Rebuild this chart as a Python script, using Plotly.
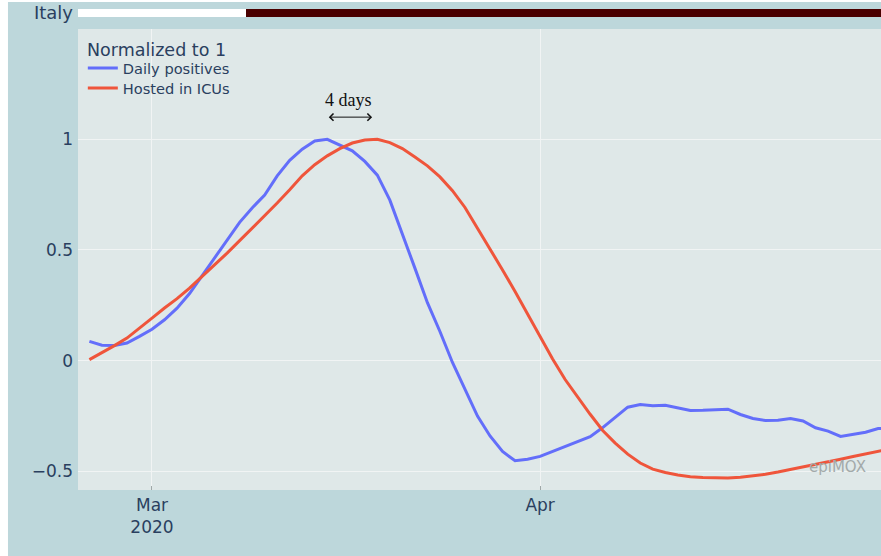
import pandas as pd
import plotly.graph_objects as go

# Daily series (normalized so that each peak equals 1)
dates = pd.date_range("2020-02-25", "2020-04-29", freq="D")

daily_positives = [
    0.087, 0.070, 0.069, 0.080, 0.110,
    0.142, 0.185, 0.237, 0.303, 0.385, 0.462, 0.545, 0.625, 0.690, 0.748,
    0.835, 0.905, 0.955, 0.992, 1.000, 0.975, 0.948, 0.900, 0.838, 0.725,
    0.575, 0.418, 0.262, 0.132, -0.008, -0.130, -0.250, -0.340, -0.410, -0.452,
    -0.445,
    -0.432, -0.410, -0.388, -0.365, -0.343, -0.302, -0.258, -0.210, -0.198, -0.203,
    -0.201, -0.213, -0.225, -0.224, -0.222, -0.219, -0.243, -0.261, -0.270, -0.269,
    -0.261, -0.272, -0.303, -0.318, -0.342, -0.333, -0.323, -0.306, -0.305,
]

hosted_in_icus = [
    0.005, 0.035, 0.068, 0.102, 0.145,
    0.192, 0.238, 0.280, 0.328, 0.380, 0.432, 0.486, 0.542, 0.598, 0.655,
    0.712, 0.772, 0.835, 0.885, 0.925, 0.958, 0.983, 0.997, 1.000, 0.985,
    0.958, 0.920, 0.880, 0.830, 0.768, 0.692, 0.600, 0.505, 0.410, 0.312,
    0.212,
    0.108, 0.008, -0.085, -0.165, -0.242, -0.315, -0.372, -0.422, -0.462, -0.490,
    -0.505, -0.516, -0.524, -0.528, -0.530, -0.530, -0.526, -0.520, -0.513, -0.503,
    -0.492, -0.480, -0.468, -0.456, -0.445, -0.433, -0.421, -0.410, -0.398,
]

# Restriction strip (0 = no lockdown, 1 = lockdown)
strip_dates = pd.date_range("2020-02-24", "2020-04-29", freq="D")
strip_country = ["Italy"]
lockdown = [
    0, 0, 0, 0, 0, 0, 0, 0, 0, 0, 0, 0, 0, 0,
    1, 1, 1, 1, 1, 1, 1, 1, 1, 1, 1, 1, 1, 1, 1, 1, 1, 1, 1, 1, 1, 1, 1,
    1, 1, 1, 1, 1, 1, 1, 1, 1, 1, 1, 1, 1, 1, 1, 1, 1, 1, 1, 1, 1, 1, 1,
    1, 1, 1, 1, 1, 1,
]

FONT_COLOR = "#2a3f5f"
PAPER = "#bdd7db"
PLOT_BG = "#dfe8e8"
GRID = "#f1f4f4"

fig = go.Figure()

fig.add_trace(go.Heatmap(
    x=strip_dates, y=strip_country, z=[lockdown],
    colorscale=[[0, "#ffffff"], [1, "#4a0000"]], zmin=0, zmax=1,
    showscale=False, xaxis="x2", yaxis="y2", hoverinfo="skip",
))

fig.add_trace(go.Scatter(
    x=dates, y=daily_positives, mode="lines", name="Daily positives",
    line=dict(color="#636efa", width=3), legend="legend",
))
fig.add_trace(go.Scatter(
    x=dates, y=hosted_in_icus, mode="lines", name="Hosted in ICUs",
    line=dict(color="#ef553b", width=3), legend="legend2",
))

# Legend heading
fig.add_annotation(
    x=0.0087, y=0.9148, xref="paper", yref="paper", xanchor="left", yanchor="middle",
    text="Normalized to 1", showarrow=False, font=dict(size=17.5),
)

# Double-headed arrow between the two peaks, with its label
fig.add_annotation(
    x="2020-03-18 14:00", y=1.10, ax="2020-03-15", ay=1.10,
    xref="x", yref="y", axref="x", ayref="y", text="",
    showarrow=True, arrowside="end+start", arrowhead=4, startarrowhead=4,
    arrowsize=1.4, startarrowsize=1.4, arrowwidth=1, arrowcolor="#111111",
    standoff=0, startstandoff=0,
)
fig.add_annotation(
    x="2020-03-16 16:00", y=1.176, xref="x", yref="y", text="4 days",
    showarrow=False, font=dict(family="Liberation Serif", size=18, color="#111111"),
)

# Watermark
fig.add_annotation(
    x=0.984, y=0.048, xref="paper", yref="paper", xanchor="right", yanchor="middle",
    text="epiMOX", showarrow=False, font=dict(size=15, color="#a3aaaa"),
)

# White frame strips along the left and top edges
fig.add_shape(type="rect", xref="paper", yref="paper", x0=-0.11, x1=-0.0872,
              y0=-0.2, y1=1.03, fillcolor="#ffffff", line_width=0, layer="below")
fig.add_shape(type="rect", xref="paper", yref="paper", x0=-0.11, x1=1.05,
              y0=1.0146, y1=1.03, fillcolor="#ffffff", line_width=0, layer="below")

legend_common = dict(
    font=dict(size=14.6), xanchor="left", yanchor="top",
    bgcolor="rgba(0,0,0,0)", borderwidth=0,
)

fig.update_layout(
    width=881, height=556,
    margin=dict(l=78, r=0, t=9, b=66),
    paper_bgcolor=PAPER, plot_bgcolor=PLOT_BG,
    font=dict(family="DejaVu Sans", size=17, color=FONT_COLOR),
    showlegend=True,
    legend=dict(x=0.006, y=0.9106, **legend_common),
    legend2=dict(x=0.006, y=0.869, **legend_common),
    xaxis=dict(
        domain=[0, 1], anchor="y", type="date",
        range=["2020-02-24 02:10", "2020-04-28 05:30"],
        dtick="M1", tick0="2020-01-01", tickformat="%b\n%Y",
        ticks="inside", ticklen=4, tickcolor="#a0a8a8", tickwidth=1,
        showgrid=True, gridcolor=GRID, gridwidth=1, zeroline=False, showline=False,
        ticklabelstandoff=3,
    ),
    yaxis=dict(
        domain=[0, 0.9584], anchor="x", range=[-0.584, 1.498], dtick=0.5,
        showgrid=True, gridcolor=GRID, gridwidth=1, zeroline=False, showline=False,
        ticklabelstandoff=4,
    ),
    xaxis2=dict(
        anchor="y2", matches="x", showticklabels=False, showgrid=False,
        zeroline=False, showline=False,
    ),
    yaxis2=dict(
        domain=[0.9834, 1], anchor="x2", showgrid=False, zeroline=False,
        tickfont=dict(size=18), ticklabelstandoff=4,
    ),
)

fig.write_html("out.html")
